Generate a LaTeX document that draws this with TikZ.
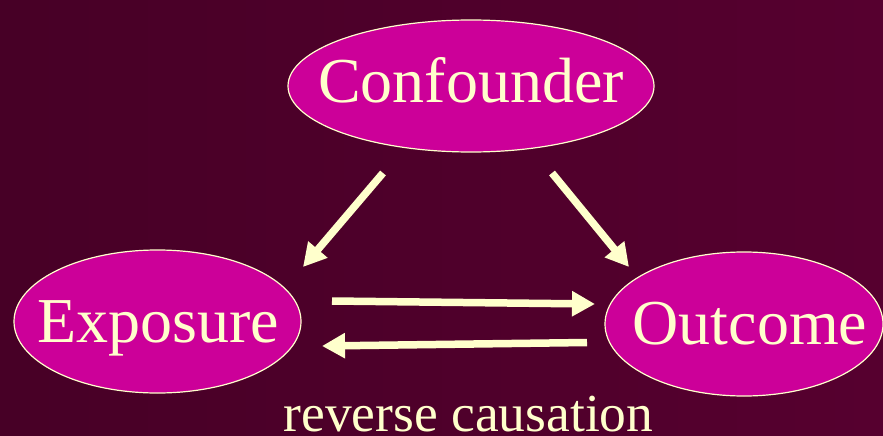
\documentclass[tikz,border=0pt]{standalone}
\usepackage{fontspec}
\setmainfont{Liberation Serif}
\usetikzlibrary{shapes.geometric,arrows.meta}
\definecolor{bgleft}{HTML}{470026}
\definecolor{bgright}{HTML}{56002F}
\definecolor{blob}{HTML}{CC0099}
\definecolor{cream}{HTML}{FFFFCC}
\tikzset{
  blobnode/.style={ellipse, draw=cream, line width=1.2pt, fill=blob, inner sep=0pt},
  blobtext/.style={text=cream, font=\fontsize{64}{64}\selectfont, inner sep=0pt, anchor=base},
  causal/.style={draw=cream, line width=7.5pt,
    -{Triangle[length=23pt,width=24pt]}},
  note/.style={text=cream, font=\fontsize{53.5}{54}\selectfont, inner sep=0pt, anchor=base}
}
\begin{document}
\begin{tikzpicture}[x=1pt,y=-1pt]
\shade[left color=bgleft,right color=bgright] (0,0) rectangle (883,436);
\useasboundingbox (0,0) rectangle (883,436);
\node[blobnode, minimum width=366pt, minimum height=132pt] (conf) at (471,86) {};
\node[blobnode, minimum width=287pt, minimum height=143pt] (expo) at (157.5,321.5) {};
\node[blobnode, minimum width=278pt, minimum height=144pt] (outc) at (744,324) {};
\node[blobtext] (conftxt) at (471,102) {Confounder};
\node[blobtext] (expotxt) at (158,342) {Exposure};
\node[blobtext] (outctxt) at (750,344) {Outcome};
\node[note] (rev) at (468.5,431.5) {reverse causation};
\coordinate (c1) at (383,173);
\coordinate (e1) at (303,267);
\coordinate (c2) at (552,173);
\coordinate (o1) at (629,267);
\coordinate (e2) at (332,301);
\coordinate (o2) at (595,304);
\coordinate (o3) at (587,342.5);
\coordinate (e3) at (322,346);
\draw[causal] (c1) -- (e1);
\draw[causal] (c2) -- (o1);
\draw[causal] (e2) -- (o2);
\draw[causal] (o3) -- (e3);
\end{tikzpicture}
\end{document}
